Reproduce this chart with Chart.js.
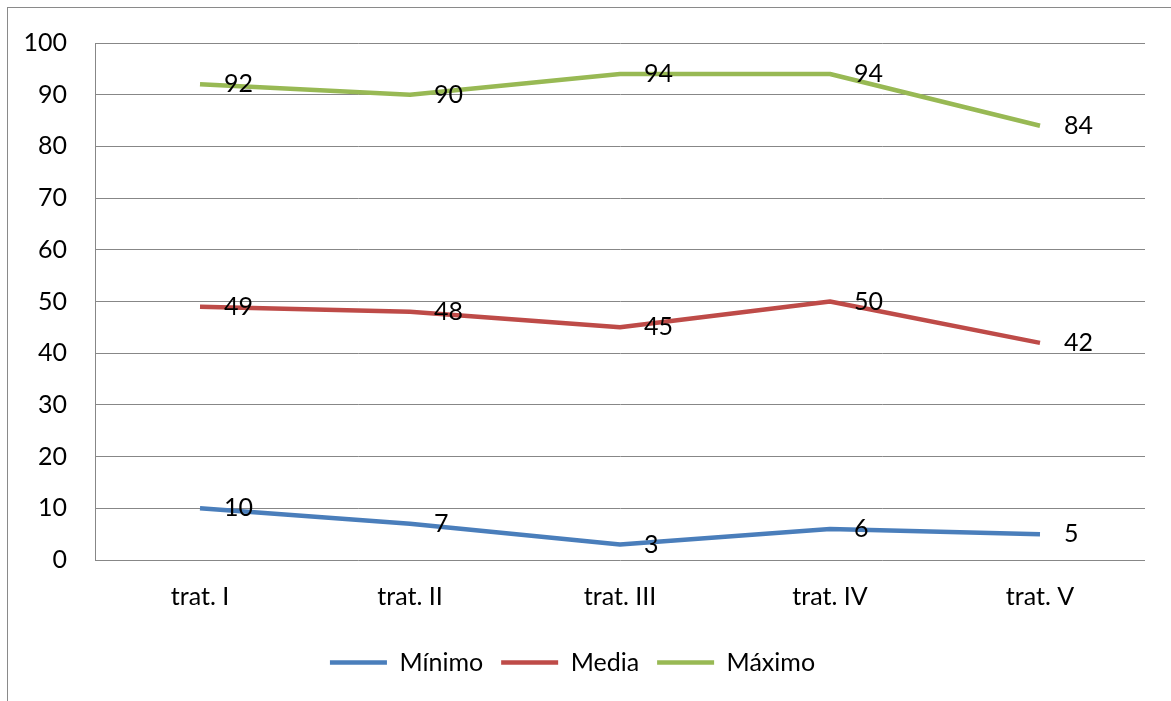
<!DOCTYPE html>
<html lang="es">

<head>
    <meta charset="UTF-8">
    <title>Mínimo, Media y Máximo por tratamiento</title>
    <script src="https://cdn.jsdelivr.net/npm/chart.js"></script>
    <style>
        body {
            margin: 0;
            padding: 0;
            background-color: #fff;
        }

        #wrap {
            position: relative;
            width: 1171px;
            height: 701px;
            overflow: hidden;
        }

        /* marco gris del grafico (solo arriba e izquierda) */
        #frame {
            position: absolute;
            left: 7px;
            top: 7px;
            width: 1200px;
            height: 720px;
            border-top: 1px solid #8a8a8a;
            border-left: 1px solid #8a8a8a;
        }

        canvas {
            position: absolute;
            left: 0;
            top: 0;
        }
    </style>
</head>

<body>
    <div id="wrap">
        <div id="frame"></div>
        <canvas id="chart" width="1171" height="701"></canvas>
    </div>

    <script>
        const tratamientos = ['trat. I', 'trat. II', 'trat. III', 'trat. IV', 'trat. V'];
        const minimo = [10, 7, 3, 6, 5];
        const media = [49, 48, 45, 50, 42];
        const maximo = [92, 90, 94, 94, 84];

        const FONT = { family: 'Lato', size: 25 };

        // etiquetas de valor a la derecha de cada punto
        const valueLabels = {
            id: 'valueLabels',
            afterDatasetsDraw(chart) {
                const ctx = chart.ctx;
                ctx.save();
                ctx.font = FONT.size + 'px ' + FONT.family;
                ctx.fillStyle = '#000';
                ctx.textAlign = 'left';
                ctx.textBaseline = 'middle';
                chart.data.datasets.forEach((ds, i) => {
                    chart.getDatasetMeta(i).data.forEach((pt, j) => {
                        ctx.fillText(ds.data[j], pt.x + 24, pt.y);
                    });
                });
                ctx.restore();
            }
        };

        function serie(label, data, color) {
            return {
                label: label,
                data: data,
                borderColor: color,
                backgroundColor: color,
                borderWidth: 4.5,
                borderCapStyle: 'butt',
                borderJoinStyle: 'round',
                pointRadius: 0,
                tension: 0,
                fill: false
            };
        }

        const chart = new Chart(document.getElementById('chart'), {
            type: 'line',
            data: {
                labels: tratamientos,
                datasets: [
                    serie('Mínimo', minimo, '#4a7ebb'),
                    serie('Media', media, '#be4b48'),
                    serie('Máximo', maximo, '#98b954')
                ]
            },
            options: {
                responsive: false,
                animation: false,
                layout: {
                    padding: { top: 40, right: 26, bottom: 16, left: 0 }
                },
                plugins: {
                    tooltip: { enabled: false },
                    legend: {
                        position: 'bottom',
                        labels: {
                            usePointStyle: true,
                            pointStyle: 'line',
                            pointStyleWidth: 57,
                            padding: 18,
                            color: '#000',
                            font: FONT
                        }
                    }
                },
                scales: {
                    x: {
                        offset: true,
                        grid: { display: false, drawTicks: false },
                        border: { display: false },
                        ticks: { color: '#000', font: FONT, padding: 22, maxRotation: 0 },
                        afterFit(scale) { scale.height = 72; }
                    },
                    y: {
                        min: 0,
                        max: 100,
                        ticks: { stepSize: 10, color: '#000', font: FONT, padding: 28 },
                        grid: { color: '#878787', lineWidth: 1, drawTicks: false },
                        border: { display: true, color: '#878787', width: 1 },
                        afterFit(scale) { scale.width = 95; }
                    }
                }
            },
            plugins: [valueLabels]
        });
    </script>
</body>

</html>
